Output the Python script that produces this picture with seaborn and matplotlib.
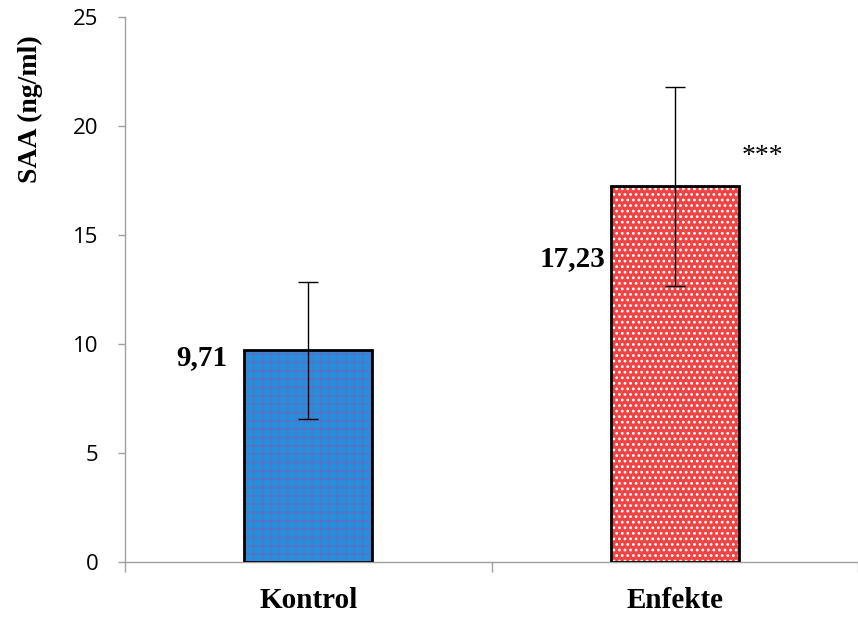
import matplotlib
matplotlib.use("Agg")
import matplotlib.pyplot as plt
from matplotlib.patches import Rectangle
import seaborn as sns
import pandas as pd

groups = ["Kontrol", "Enfekte"]
means = [9.71, 17.23]
errors = [3.14, 4.56]
value_labels = ["9,71", "17,23"]
label_y = [9.4, 13.9]
yticks = [0, 5, 10, 15, 20, 25]

sns.set_style("white")
plt.rcParams["hatch.linewidth"] = 1.2

df = pd.DataFrame({"grup": groups, "saa": means})

fig = plt.figure(figsize=(8.58, 6.19), dpi=100)
ax = fig.add_axes([0.1457, 0.0921, 0.8543, 0.8805])

sns.barplot(data=df, x="grup", y="saa", errorbar=None, width=0.35, ax=ax)

fills = ["#2290dc", "#f04444"]
hatch_cols = ["#5a72c6", "white"]
hatches = ["++", "..."]
for p, fc, hc, h in zip(ax.patches, fills, hatch_cols, hatches):
    p.set_facecolor(fc)
    p.set_edgecolor(hc)
    p.set_hatch(h)
    p.set_linewidth(0)
    ax.add_patch(Rectangle((p.get_x(), p.get_y()), p.get_width(), p.get_height(),
                           fill=False, edgecolor="black", linewidth=2, zorder=3))

ax.errorbar(range(len(groups)), means, yerr=errors, fmt="none", ecolor="black",
            elinewidth=1, capsize=7, capthick=1, zorder=4)

serif = "Liberation Serif"
offsets = [-0.222, -0.19]
for i, (ly, lab) in enumerate(zip(label_y, value_labels)):
    ax.text(i + offsets[i], ly, lab, ha="right", va="center", fontsize=21,
            fontweight="bold", family=serif, color="black")
ax.text(1.24, 18.6, "***", ha="center", va="center", fontsize=20, family=serif,
        color="black")

ax.set_xlim(-0.5, 1.48)
ax.set_ylim(0, 25)
ax.set_yticks(yticks)
ax.set_yticklabels([str(t) for t in yticks], fontsize=16, family="Open Sans",
                   color="black")
ax.set_xticks([0, 1])
ax.set_xticklabels(groups, fontsize=21, fontweight="bold", family=serif, color="black")
ax.set_xticks([-0.5, 0.5, 1.5], minor=True)
ax.tick_params(axis="x", which="major", bottom=False, length=0, pad=18)
ax.tick_params(axis="x", which="minor", bottom=True, length=7, width=1,
               color="#a0a0a0", direction="out")
ax.tick_params(axis="y", left=True, length=5, width=1, color="#a0a0a0",
               direction="out", pad=14)
ax.set_xlabel("")
ax.set_ylabel("SAA (ng/ml)", fontsize=20, fontweight="bold", family=serif,
              color="black")
ax.yaxis.set_label_coords(-0.112, 0.83)

sns.despine(ax=ax)
for s in ["left", "bottom"]:
    ax.spines[s].set_color("#a0a0a0")
    ax.spines[s].set_linewidth(1)

fig.savefig("out.png", dpi=100)
